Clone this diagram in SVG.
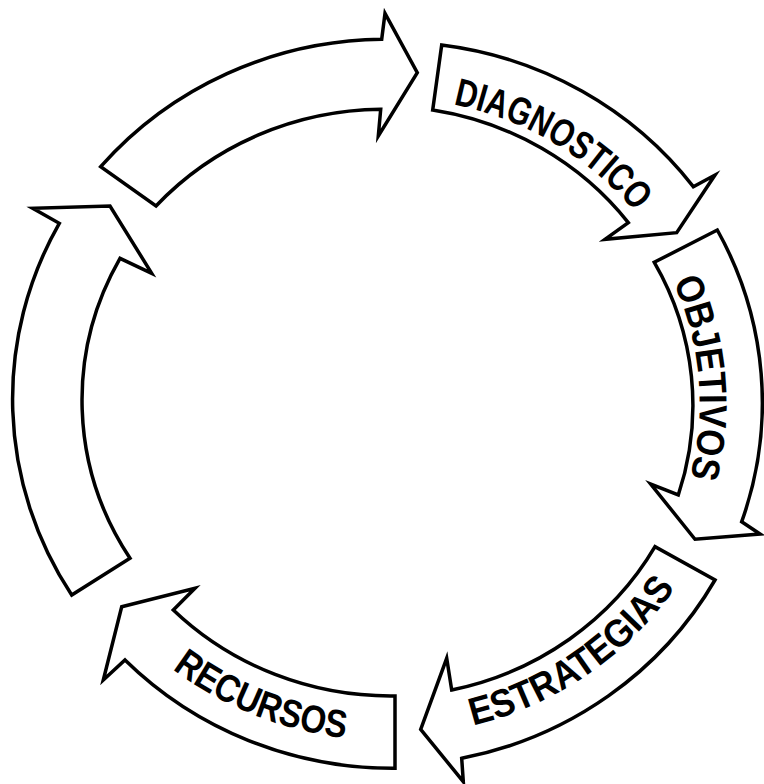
<svg xmlns="http://www.w3.org/2000/svg" width="764" height="784" viewBox="0 0 764 784">
<style>
.arrow{fill:#fff;stroke:#000;stroke-width:3.5;stroke-linejoin:miter;stroke-miterlimit:10}
.lbl{font-family:"Liberation Sans",Arial,sans-serif;font-weight:bold;font-size:39px;fill:#000}
</style>
<defs>
<path id="pDiag" d="M 290.2 112.9 A 316.6 305 0 0 1 701.5 360.6"/>
<path id="pObj" d="M 568.1 158 A 311.6 300.2 0 0 1 607.2 616.4"/>
<path id="pEst" d="M 302.7 725.5 A 345.4 332.8 0 0 0 732.4 428"/>
<path id="pRec" d="M 53.1 502.3 A 350.4 337.6 0 0 0 547.6 703.5"/>
</defs>
<rect width="764" height="784" fill="#fff"/>
<g id="connectors"></g>
<g id="arrow-top">
<path class="arrow" d="M 100.7 166.7 A 376 364 0 0 1 381.7 39.3 L 385 13.3 L 417.3 72.7 L 378.3 136 L 380.7 109.3 A 308 295 0 0 0 156 206 Z"/>
</g>
<g id="diagnostico">
<path class="arrow" d="M 441.7 45 A 376 364 0 0 1 693.3 186.7 L 715 175 L 676.7 232.7 L 605 239.3 L 628.3 222.7 A 308 295 0 0 0 432.7 110 Z"/>
<text class="lbl" textLength="215" lengthAdjust="spacingAndGlyphs"><textPath href="#pDiag" startOffset="50%" text-anchor="middle">DIAGNOSTICO</textPath></text>
</g>
<g id="objetivos">
<path class="arrow" d="M 717.3 230 A 376 364 0 0 1 741.7 521.7 L 760 534 L 695 539.3 L 650.7 484 L 678.3 495 A 308 295 0 0 0 654.3 262.3 Z"/>
<text class="lbl" textLength="200" lengthAdjust="spacingAndGlyphs"><textPath href="#pObj" startOffset="50%" text-anchor="middle">OBJETIVOS</textPath></text>
</g>
<g id="estrategias">
<path class="arrow" d="M 715 580 A 376 364 0 0 1 461.7 758.3 L 463.3 781.7 L 420.7 729.3 L 446.7 658.3 L 451.7 690 A 308 295 0 0 0 655 546.7 Z"/>
<text class="lbl" textLength="250" lengthAdjust="spacingAndGlyphs"><textPath href="#pEst" startOffset="50%" text-anchor="middle">ESTRATEGIAS</textPath></text>
</g>
<g id="recursos">
<path class="arrow" d="M 395 768.3 A 376 364 0 0 1 125 660 L 103.3 680 L 121.7 606.7 L 195 588.3 L 173.3 610 A 308 295 0 0 0 395 696 Z"/>
<text class="lbl" textLength="188" lengthAdjust="spacingAndGlyphs"><textPath href="#pRec" startOffset="50%" text-anchor="middle">RECURSOS</textPath></text>
</g>
<g id="arrow-left">
<path class="arrow" d="M 71.7 595 A 376 364 0 0 1 59.3 223.3 L 32.7 208.3 L 110 206 L 151.7 273.3 L 120 258.3 A 308 295 0 0 0 130 558.3 Z"/>
</g>
</svg>
